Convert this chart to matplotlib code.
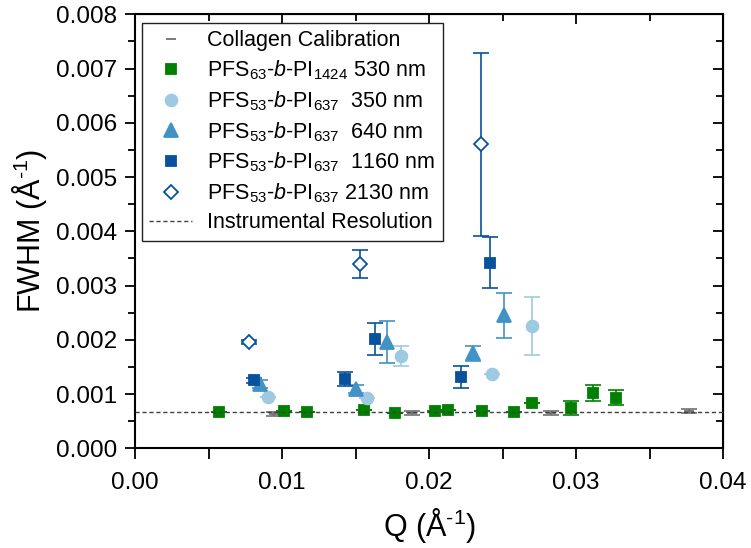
import numpy as np
import matplotlib
matplotlib.use("Agg")
import matplotlib.pyplot as plt
from matplotlib.ticker import MultipleLocator, FormatStrFormatter

plt.rcParams["font.family"] = ["Liberation Sans", "DejaVu Sans"]
plt.rcParams["mathtext.fontset"] = "custom"
plt.rcParams["mathtext.rm"] = "Liberation Sans"
plt.rcParams["mathtext.it"] = "Liberation Sans:italic"

# data
collagen_q = [0.00946, 0.01882, 0.02826, 0.03765]
collagen_fwhm = [0.000626, 0.000656, 0.000645, 0.000687]
collagen_err = [0.00004, 0.00004, 0.00004, 0.00004]

pi1424_530_q = [0.00573, 0.01011, 0.0117, 0.01556, 0.01764, 0.0204, 0.02125,
                0.02358, 0.02574, 0.02698, 0.02964, 0.03113, 0.03272]
pi1424_530_fwhm = [0.000674, 0.00068, 0.000672, 0.0007, 0.000645, 0.000687, 0.000705,
                   0.000687, 0.000674, 0.00084, 0.000745, 0.00102, 0.00093]
pi1424_530_err = [0, 0, 0, 0, 0, 0, 0, 0, 0, 0, 0.00013, 0.00015, 0.00014]

pi637_350_q = [0.00903, 0.01576, 0.0181, 0.02426, 0.02698]
pi637_350_fwhm = [0.00094, 0.000926, 0.0017, 0.001362, 0.002258]
pi637_350_err = [0, 0, 0.00019, 0, 0.00053]

pi637_640_q = [0.0085, 0.01499, 0.01712, 0.02301, 0.02508]
pi637_640_fwhm = [0.00118, 0.00109, 0.00196, 0.00175, 0.00245]
pi637_640_err = [0.00007, 0.00008, 0.00038, 0.00014, 0.00042]

pi637_1160_q = [0.00805, 0.01429, 0.01633, 0.02216, 0.02415]
pi637_1160_fwhm = [0.00125, 0.00128, 0.00201, 0.00131, 0.00342]
pi637_1160_err = [0.00004, 0.00013, 0.0003, 0.0002, 0.00047]

pi637_2130_q = [0.00776, 0.01531, 0.02349]
pi637_2130_fwhm = [0.00196, 0.00339, 0.0056]
pi637_2130_err = [0.00004, 0.00026, 0.00168]

instr_res = 0.00066

fig = plt.figure(figsize=(7.51, 5.48), dpi=100)
ax = fig.add_axes([0.18, 0.182, 0.783, 0.792])

series = [
    (collagen_q, collagen_fwhm, collagen_err, "_", "#707070", "#707070", 7,
     "Collagen Calibration"),
    (pi1424_530_q, pi1424_530_fwhm, pi1424_530_err, "s", "#008000", "#008000", 7.5,
     r"PFS$_{63}$-$\it{b}$-PI$_{1424}$ 530 nm"),
    (pi637_350_q, pi637_350_fwhm, pi637_350_err, "o", "#9ecae1", "#9ecae1", 8.5,
     r"PFS$_{53}$-$\it{b}$-PI$_{637}$  350 nm"),
    (pi637_640_q, pi637_640_fwhm, pi637_640_err, "^", "#4292c6", "#4292c6", 9.5,
     r"PFS$_{53}$-$\it{b}$-PI$_{637}$  640 nm"),
    (pi637_1160_q, pi637_1160_fwhm, pi637_1160_err, "s", "#08519c", "#08519c", 7.5,
     r"PFS$_{53}$-$\it{b}$-PI$_{637}$  1160 nm"),
    (pi637_2130_q, pi637_2130_fwhm, pi637_2130_err, "D", "white", "#08519c", 7.5,
     r"PFS$_{53}$-$\it{b}$-PI$_{637}$ 2130 nm"),
]

for q, f, e, m, fc, ec, ms, lab in series:
    ax.errorbar(q, f, yerr=e, fmt="none", ecolor=ec, elinewidth=1.2,
                capsize=5.5, capthick=1.2, zorder=2)
    ax.plot(q, f, linestyle="none", marker=m, markersize=ms,
            markerfacecolor=fc, markeredgecolor=ec, markeredgewidth=1.3,
            label=lab, zorder=3)

ax.axhline(instr_res, color="#404040", linestyle=(0, (3, 2)), linewidth=1,
           label="Instrumental Resolution", zorder=4)

ax.set_xlim(0, 0.04)
ax.set_ylim(0, 0.008)
ax.xaxis.set_major_locator(MultipleLocator(0.01))
ax.xaxis.set_minor_locator(MultipleLocator(0.005))
ax.yaxis.set_major_locator(MultipleLocator(0.001))
ax.yaxis.set_minor_locator(MultipleLocator(0.0005))
ax.xaxis.set_major_formatter(FormatStrFormatter("%.2f"))
ax.yaxis.set_major_formatter(FormatStrFormatter("%.3f"))

ax.tick_params(which="both", direction="out", labelsize=17.5, width=1.3)
ax.tick_params(axis="x", which="both", length=8, pad=9)
ax.tick_params(axis="y", which="major", length=7, pad=6)
ax.tick_params(axis="y", which="minor", length=5)
for sp in ax.spines.values():
    sp.set_linewidth(1.5)

# mirrored ticks on top and right, pointing inward
axt = ax.secondary_xaxis("top")
axt.xaxis.set_major_locator(MultipleLocator(0.01))
axt.xaxis.set_minor_locator(MultipleLocator(0.005))
axt.tick_params(which="both", direction="in", labeltop=False, width=1.3)
axt.tick_params(which="major", length=7)
axt.tick_params(which="minor", length=5)
axr = ax.secondary_yaxis("right")
axr.yaxis.set_major_locator(MultipleLocator(0.001))
axr.yaxis.set_minor_locator(MultipleLocator(0.0005))
axr.tick_params(which="both", direction="in", labelright=False, width=1.3)
axr.tick_params(which="major", length=7)
axr.tick_params(which="minor", length=5)

ax.set_xlabel(r"Q (Å$^{\text{-1}}$)", fontsize=22, labelpad=9)
ax.set_ylabel(r"FWHM (Å$^{\text{-1}}$)", fontsize=22, labelpad=5)

leg = ax.legend(loc="upper left", bbox_to_anchor=(0.0, 0.995), fontsize=15.5,
                frameon=True, fancybox=False, shadow=False, framealpha=1,
                edgecolor="#202020", handlelength=2.0, handletextpad=0.7,
                labelspacing=0.33, borderpad=0.35, borderaxespad=0.3)
leg.get_frame().set_linewidth(1.0)

fig.savefig("out.png", dpi=100)
